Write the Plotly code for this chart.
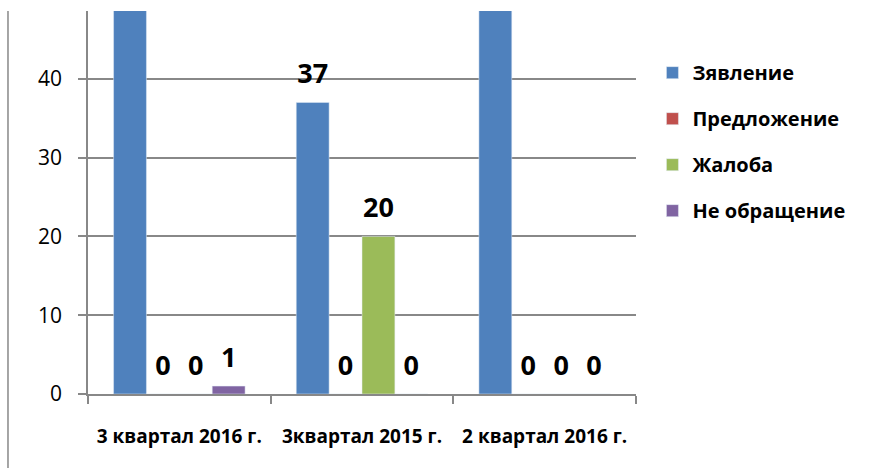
import plotly.graph_objects as go

categories = ["3 квартал 2016 г.", "3квартал 2015 г.", "2 квартал 2016 г."]
series_names = ["Зявление", "Предложение", "Жалоба", "Не обращение"]
zayavlenie = [60, 37, 58]
predlozhenie = [0, 0, 0]
zhaloba = [0, 20, 0]
ne_obrashchenie = [1, 0, 0]
colors = ["#4F81BD", "#C0504D", "#9BBB59", "#8064A2"]
y_ticks = [0, 10, 20, 30, 40]
Y_MAX = 48.6

series_values = [zayavlenie, predlozhenie, zhaloba, ne_obrashchenie]

fig = go.Figure()
for i, (name, vals, col) in enumerate(zip(series_names, series_values, colors)):
    txt = [("<span style='font-size:27px'>%s</span><br>&nbsp;" % v) if v <= Y_MAX else "" for v in vals]
    fig.add_trace(go.Bar(
        x=categories, y=vals, name=name, marker_color=col,
        text=txt, textposition="outside", cliponaxis=True,
        textfont=dict(family="Open Sans", size=10, color="black", weight="bold"),
        legendgroup=f"g{i}", hoverinfo="x+y+name",
    ))

fig.update_layout(
    width=876, height=468,
    margin=dict(l=88, r=240, t=11, b=74),
    paper_bgcolor="white", plot_bgcolor="white",
    barmode="group", bargap=0.28, bargroupgap=0,
    font=dict(family="Open Sans", color="black"),
    showlegend=True,
    legend=dict(
        x=1.03, y=0.89, xanchor="left", yanchor="top",
        font=dict(family="Open Sans", size=20, color="black", weight="bold"),
        tracegroupgap=17, itemclick=False,
    ),
    uniformtext=dict(mode=False),
)
fig.update_xaxes(
    showline=True, linecolor="#888888", linewidth=1.5,
    ticks="outside", tickson="boundaries", ticklen=8, tickcolor="#888888", tickwidth=1.5,
    tickfont=dict(family="Open Sans", size=19, color="black", weight="bold"),
    ticklabelstandoff=24,
    showgrid=False,
)
fig.update_yaxes(
    range=[0, Y_MAX], tickvals=y_ticks,
    showline=True, linecolor="#888888", linewidth=1.5,
    ticks="outside", ticklen=8, tickcolor="#888888", tickwidth=1.5,
    showgrid=True, gridcolor="#888888", gridwidth=1.5,
    tickfont=dict(family="Open Sans", size=21, color="black"),
    ticklabelstandoff=12,
    zeroline=False,
)
fig.add_shape(type="line", xref="paper", yref="paper",
              x0=-0.146, x1=-0.146, y0=1.0, y1=-0.2,
              line=dict(color="#888888", width=1.5))

fig.write_html("out.html", config={"displayModeBar": False},
               post_script="document.body.style.margin='0';")
